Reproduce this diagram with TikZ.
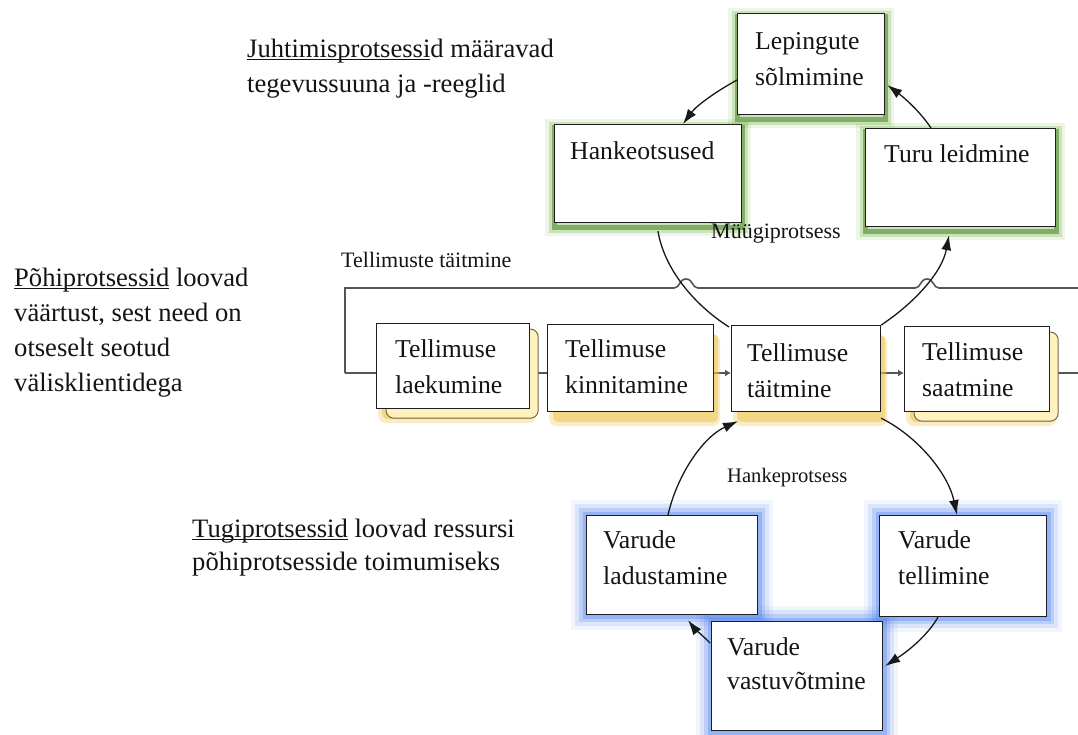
\documentclass[tikz,border=0pt]{standalone}
\usepackage{fontspec}
\setmainfont{Liberation Serif}
\usetikzlibrary{calc,arrows.meta,backgrounds}
\definecolor{ggreen}{RGB}{105,175,55}
\definecolor{gdark}{RGB}{70,130,30}
\definecolor{gblue}{RGB}{80,130,240}
\definecolor{gold}{RGB}{240,195,70}
\definecolor{ylight}{RGB}{255,242,190}
\definecolor{ydark}{RGB}{120,105,70}
\definecolor{boxline}{RGB}{30,30,30}
\definecolor{loopcol}{RGB}{85,85,85}
\definecolor{arrcol}{RGB}{25,25,25}
\definecolor{textcol}{RGB}{20,20,20}
\newcommand{\myul}[1]{\leavevmode\setbox0\hbox{#1}\rlap{\rule[-2.6pt]{\wd0}{1pt}}\box0\relax}
\newcommand{\myboxfont}{\fontsize{25.7}{36}\selectfont}
\newcommand{\myvasfont}{\fontsize{25.7}{34}\selectfont}
\newcommand{\mysidefont}{\fontsize{26.6}{35}\selectfont}
\newcommand{\mytugifont}{\fontsize{26.6}{33}\selectfont}
\newcommand{\mylabfont}{\fontsize{22}{26}\selectfont}
\newcommand{\myhankfont}{\fontsize{20.6}{24}\selectfont}
\begin{document}
\begin{tikzpicture}[x=1pt,y=-1pt,
  pbox/.style={draw=boxline, line width=1.2pt, fill=white, anchor=north west, inner sep=0pt},
  txt/.style={anchor=north west, inner sep=0pt, align=left, text=textcol},
  loopline/.style={draw=loopcol, line width=1.6pt},
  arr/.style={draw=arrcol, line width=1.3pt, -{Latex[length=15pt,width=10pt]}},
  plainarc/.style={draw=arrcol, line width=1.3pt},
  smallarr/.style={loopline, -{Latex[length=6pt,width=7pt]}}
]
\useasboundingbox (0,0) rectangle (1078,735);

% boxes
\node[pbox, minimum width=147pt, minimum height=101pt] (lep) at (737,13) {};
\node[pbox, minimum width=187pt, minimum height=98pt] (hank) at (554,124) {};
\node[pbox, minimum width=190pt, minimum height=98pt] (turu) at (865,128) {};
\node[pbox, minimum width=153pt, minimum height=85pt] (lae) at (376,323) {};
\node[pbox, minimum width=166pt, minimum height=87pt] (kin) at (547,324) {};
\node[pbox, minimum width=149pt, minimum height=86pt] (tai) at (731,325) {};
\node[pbox, minimum width=145pt, minimum height=85pt] (saa) at (904,326) {};
\node[pbox, minimum width=171pt, minimum height=99pt] (lad) at (586,515) {};
\node[pbox, minimum width=167pt, minimum height=101pt] (tel) at (879,515) {};
\node[pbox, minimum width=171pt, minimum height=109pt] (vas) at (711,621) {};

% box texts
\node[txt, font=\myboxfont] (lep-t) at (755,32.4) {Lepingute\\sõlmimine};
\node[txt, font=\myboxfont] (hank-t) at (570,141.4) {Hankeotsused};
\node[txt, font=\myboxfont] (turu-t) at (884,144.4) {Turu leidmine};
\node[txt, font=\myboxfont] (lae-t) at (395,339.4) {Tellimuse\\laekumine};
\node[txt, font=\myboxfont] (kin-t) at (565,339.4) {Tellimuse\\kinnitamine};
\node[txt, font=\myboxfont] (tai-t) at (747,343.4) {Tellimuse\\täitmine};
\node[txt, font=\myboxfont] (saa-t) at (922,342.4) {Tellimuse\\saatmine};
\node[txt, font=\myboxfont] (lad-t) at (603,530.4) {Varude\\ladustamine};
\node[txt, font=\myboxfont] (tel-t) at (898,530.4) {Varude\\tellimine};
\node[txt, font=\myvasfont] (vas-t) at (727,637.4) {Varude\\vastuvõtmine};

% side texts
\node[txt, font=\mysidefont] (juht) at (247,38.8) {\myul{Juhtimisprotsessi}d määravad\\tegevussuuna ja -reeglid};
\node[txt, font=\mysidefont] (pohi) at (14,267.8) {\myul{Põhiprotsessid} loovad\\väärtust, sest need on\\otseselt seotud\\välisklientidega};
\node[txt, font=\mytugifont] (tugi) at (192,518.8) {\myul{Tugiprotsessid} loovad ressursi\\põhiprotsesside toimumiseks};

% labels
\node[txt, font=\mylabfont] (tt) at (341,252) {Tellimuste täitmine};
\node[txt, font=\mylabfont] (myyk) at (711,224) {Müügiprotsess};
\node[txt, font=\myhankfont] (hankp) at (727,468) {Hankeprotsess};

% loop coordinates
\coordinate (lt) at (345,288);
\coordinate (lb) at (345,373);
\coordinate (re) at (1078,288);
\coordinate (rb) at (1078,373);

\begin{scope}[on background layer]
  \fill[white] (0,0) rectangle (1078,735);
  % loop line with jumps
  \draw[loopline] (lb) -- (lt) -- (674,288) .. controls (680,288) and (679,279) .. (686,279)
     .. controls (693,279) and (692,288) .. (698,288) -- (915,288)
     .. controls (921,288) and (920,279) .. (927,279)
     .. controls (934,279) and (933,288) .. (939,288) -- (re);
  \draw[loopline] (lb) -- (lb -| lae.west);
  \draw[loopline] (lb -| lae.east) -- (lb -| kin.west);
  \draw[smallarr] (lb -| kin.east) -- (lb -| tai.west);
  \draw[smallarr] (lb -| tai.east) -- (lb -| saa.west);
  \draw[loopline] (lb -| saa.east) -- (rb);
  % green glows
  \foreach \n in {lep,hank,turu}{
    \draw[ggreen, opacity=0.12, line width=18pt, transform canvas={yshift=-4pt}] (\n.north west) rectangle (\n.south east);
    \draw[ggreen, opacity=0.25, line width=11pt, transform canvas={yshift=-4pt}] (\n.north west) rectangle (\n.south east);
    \draw[gdark, opacity=0.55, line width=5pt, transform canvas={yshift=-4pt}] (\n.north west) rectangle (\n.south east);
  }
  % blue glows
  \foreach \n in {lad,tel,vas}{
    \draw[gblue, opacity=0.08, line width=30pt] (\n.north west) rectangle (\n.south east);
    \draw[gblue, opacity=0.14, line width=22pt] (\n.north west) rectangle (\n.south east);
    \draw[gblue, opacity=0.22, line width=14pt] (\n.north west) rectangle (\n.south east);
    \draw[gblue, opacity=0.35, line width=7pt] (\n.north west) rectangle (\n.south east);
  }
  % yellow shadows
  \foreach \n in {lae,kin,tai,saa}{
    \fill[gold, opacity=0.3, rounded corners=8pt] ($(\n.north west)+(2,10)$) rectangle ($(\n.south east)+(6,14)$);
    \fill[gold, opacity=0.5, rounded corners=6pt] ($(\n.north west)+(6,10)$) rectangle ($(\n.south east)+(4,10)$);
  }
  \foreach \n in {lae,saa}{
    \filldraw[fill=ylight, draw=ydark, line width=1pt, rounded corners=8pt] ($(\n.north west)+(10,6)$) rectangle ($(\n.south east)+(8,9)$);
  }
\end{scope}

% Müügiprotsess cycle
\draw[arr] ($(lep.north west)+(0,67)$) .. controls (717,91) and (697,105) .. ($(hank.north west)+(129,0)$);
\draw[plainarc] ($(hank.south west)+(104,8)$) .. controls (664,268) and (693,304) .. ($(tai.north west)+(-2,2)$);
\draw[arr] (tai.north east) .. controls (913,304) and (942,273) .. ($(turu.south west)+(84,8)$);
\draw[arr] ($(turu.north west)+(66,0)$) .. controls (919,110) and (902,96) .. ($(lep.north east)+(2,72)$);

% Hankeprotsess cycle
\draw[arr] ($(lad.north west)+(82,0)$) .. controls (677,475) and (703,437) .. ($(tai.south west)+(7,9)$);
\draw[arr] ($(tai.south east)+(0,6)$) .. controls (917,436) and (948,473) .. ($(tel.north west)+(78,0)$);
\draw[arr] ($(tel.south west)+(59,0)$) .. controls (926,638) and (905,653) .. ($(vas.north east)+(2,45)$);
\draw[arr] ($(vas.north west)+(-1,22)$) .. controls (702,635) and (694,628) .. ($(lad.south west)+(102,5)$);
\end{tikzpicture}
\end{document}
